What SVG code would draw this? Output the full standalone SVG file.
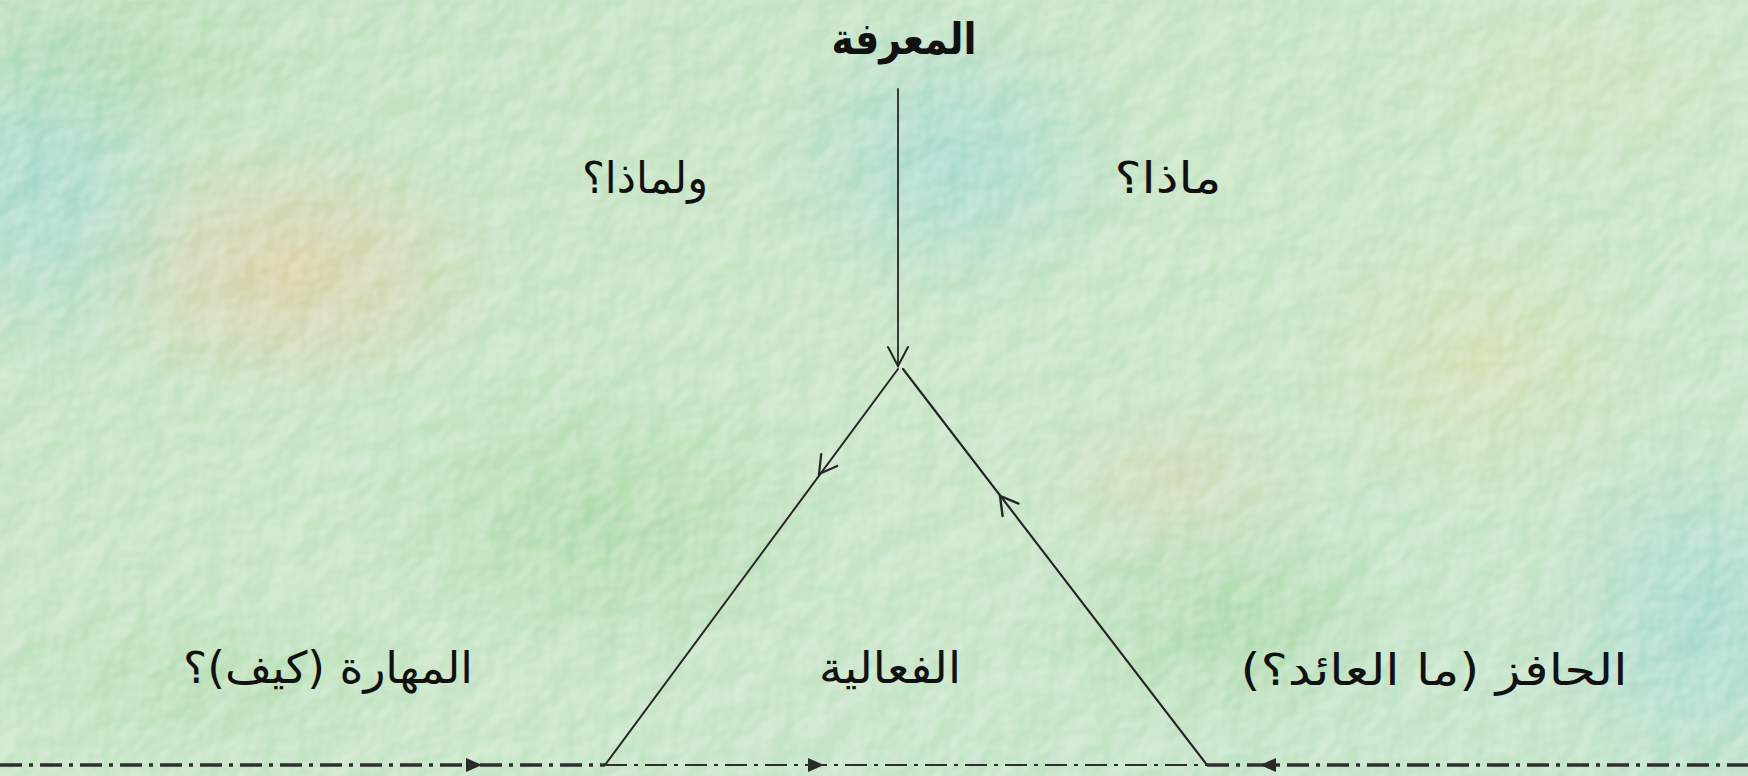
<svg xmlns="http://www.w3.org/2000/svg" width="1748" height="776" viewBox="0 0 1748 776">
<style>
.lbl{font-family:"DejaVu Sans",sans-serif;fill:#111;text-anchor:middle;direction:rtl}
.edge{stroke:#262626;fill:none;stroke-linecap:round}
.dd{stroke:#2e2e2e;fill:none;stroke-dasharray:22 7 4 7}
.ah{fill:#2a2a2a}
</style>
<defs>
<linearGradient id="bg" x1="0" y1="0" x2="1" y2="1">
<stop offset="0" stop-color="#bfe0bd"/>
<stop offset="0.5" stop-color="#c5e4c3"/>
<stop offset="1" stop-color="#c0e2c6"/>
</linearGradient>
<radialGradient id="beige"><stop offset="0" stop-color="#e2c9a0" stop-opacity="0.75"/><stop offset="1" stop-color="#e2c9a0" stop-opacity="0"/></radialGradient>
<radialGradient id="teal"><stop offset="0" stop-color="#9fd6cf" stop-opacity="0.8"/><stop offset="1" stop-color="#9fd6cf" stop-opacity="0"/></radialGradient>
<radialGradient id="grn"><stop offset="0" stop-color="#9fd49a" stop-opacity="0.6"/><stop offset="1" stop-color="#9fd49a" stop-opacity="0"/></radialGradient>
<radialGradient id="ylw"><stop offset="0" stop-color="#dcdca8" stop-opacity="0.6"/><stop offset="1" stop-color="#dcdca8" stop-opacity="0"/></radialGradient>
<filter id="tex" x="0" y="0" width="100%" height="100%">
<feTurbulence type="fractalNoise" baseFrequency="0.028" numOctaves="3" seed="7" result="n"/>
<feDiffuseLighting in="n" surfaceScale="4" lighting-color="#ffffff" diffuseConstant="1.1" result="l">
<feDistantLight azimuth="225" elevation="50"/>
</feDiffuseLighting>
<feColorMatrix in="l" type="matrix" values="0 0 0 0 1  0 0 0 0 1  0 0 0 0 1  1.4 0 0 0 -0.95"/>
</filter>
</defs>
<g id="background">
<rect width="1748" height="776" fill="url(#bg)"/>
<ellipse cx="290" cy="270" rx="220" ry="140" fill="url(#beige)"/>
<ellipse cx="40" cy="180" rx="160" ry="200" fill="url(#teal)"/>
<ellipse cx="950" cy="160" rx="200" ry="160" fill="url(#teal)"/>
<ellipse cx="600" cy="520" rx="260" ry="160" fill="url(#grn)"/>
<ellipse cx="1480" cy="360" rx="200" ry="160" fill="url(#ylw)"/>
<ellipse cx="1180" cy="480" rx="150" ry="100" fill="url(#beige)" opacity="0.5"/>
<ellipse cx="1700" cy="620" rx="160" ry="200" fill="url(#teal)"/>
<ellipse cx="1230" cy="620" rx="200" ry="120" fill="url(#grn)"/>
<ellipse cx="200" cy="680" rx="260" ry="100" fill="url(#grn)" opacity="0.6"/>
<ellipse cx="1580" cy="80" rx="200" ry="100" fill="url(#ylw)" opacity="0.6"/>
<ellipse cx="120" cy="60" rx="200" ry="90" fill="url(#grn)" opacity="0.7"/>
<rect width="1748" height="776" filter="url(#tex)" opacity="0.65"/>
</g>
<g id="connectors">
<line class="edge" x1="898" y1="89" x2="898" y2="366" stroke-width="1.8"/>
<polyline class="edge" points="888,347 898,366 908,347" stroke-width="2"/>
<line class="edge" x1="898" y1="369" x2="605" y2="765" stroke-width="2"/>
<polyline class="edge" points="837.3,466 819,474 821.2,454.1" stroke-width="2.2"/>
<line class="edge" x1="903" y1="369" x2="1207" y2="765" stroke-width="2.2"/>
<polyline class="edge" points="1002.6,516 1000,496 1018.5,503.6" stroke-width="2.4"/>
<line class="dd" x1="0" y1="765" x2="605" y2="765" stroke-width="3.5"/>
<line class="dd" x1="605" y1="765" x2="1207" y2="765" stroke-width="2"/>
<line class="dd" x1="1207" y1="765" x2="1748" y2="765" stroke-width="3.5"/>
<polygon class="ah" points="466,758 482,765 466,772"/>
<polygon class="ah" points="808,758 824,765 808,772"/>
<polygon class="ah" points="1276,758 1260,765 1276,772"/>
</g>
<g id="node-knowledge"><text class="lbl" x="904" y="54" font-size="44" font-weight="bold" textLength="145" lengthAdjust="spacingAndGlyphs">المعرفة</text></g>
<g id="node-why"><text class="lbl" x="645" y="193" font-size="44" textLength="126" lengthAdjust="spacingAndGlyphs">ولماذا؟</text></g>
<g id="node-what"><text class="lbl" x="1168" y="193" font-size="44" textLength="107" lengthAdjust="spacingAndGlyphs">ماذا؟</text></g>
<g id="node-skill"><text class="lbl" x="328" y="683" font-size="44" textLength="290" lengthAdjust="spacingAndGlyphs">المهارة (كيف)؟</text></g>
<g id="node-effectiveness"><text class="lbl" x="890" y="683" font-size="44" textLength="142" lengthAdjust="spacingAndGlyphs">الفعالية</text></g>
<g id="node-motivation"><text class="lbl" x="1434" y="685" font-size="44" textLength="387" lengthAdjust="spacingAndGlyphs">الحافز (ما العائد؟)</text></g>
</svg>
